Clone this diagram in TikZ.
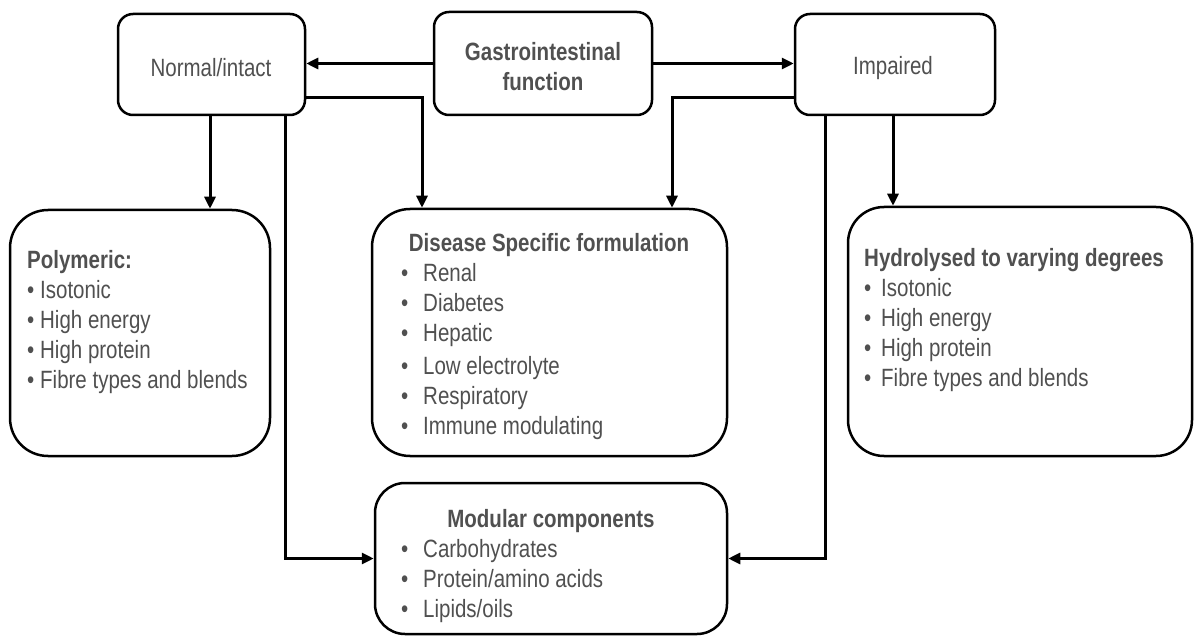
\documentclass[tikz,border=0pt]{standalone}
\usepackage{fontspec}
\setmainfont{Liberation Sans}[FakeStretch=0.82]
\usetikzlibrary{arrows.meta}
\definecolor{txt}{HTML}{505050}
\tikzset{
  box/.style={draw=black, line width=2.5pt, rounded corners=#1, fill=white, inner sep=0pt},
  box/.default=15pt,
  lbl/.style={text=txt, font=\fontsize{25}{30}\selectfont, inner sep=0pt},
  arr/.style={draw=black, line width=3pt, -{Triangle[length=12pt,width=11pt]}},
}
\newcommand{\bul}[1]{\makebox[#1][l]{•}}
\begin{document}
\begin{tikzpicture}[x=1pt,y=-1pt]
\useasboundingbox (0,0) rectangle (1194,636);
% top boxes
\node[box, minimum width=187pt, minimum height=101pt] (nrm) at (211.5,64.5) {};
\node[lbl] (nrmt) at (211,68) {Normal/intact};
\node[box, minimum width=218pt, minimum height=103pt] (gi) at (543,63.5) {};
\node[lbl, font=\fontsize{25}{30}\selectfont\bfseries, align=center] (git) at (543,67) {Gastrointestinal\\function};
\node[box, minimum width=200pt, minimum height=101pt] (imp) at (895,64.5) {};
\node[lbl] (impt) at (893,68) {Impaired};
% lower boxes
\node[box=38pt, minimum width=260pt, minimum height=246pt] (pol) at (140,333) {};
\node[lbl, anchor=north west, align=left] (polt) at (27,247) {\strut\textbf{Polymeric:}\\
\bul{13pt}Isotonic\\ \bul{13pt}High energy\\ \bul{13pt}High protein\\ \bul{13pt}Fibre types and blends};
\node[box=38pt, minimum width=355pt, minimum height=247pt] (dis) at (549.5,332.5) {};
\node[lbl, anchor=base, font=\fontsize{25}{30}\selectfont\bfseries] (dist) at (549,252) {Disease Specific formulation};
\node[lbl, anchor=north west, align=left] (disl) at (401,260) {\strut\bul{22pt}Renal\\ \bul{22pt}Diabetes\\ \bul{22pt}Hepatic\\[3pt]
\bul{22pt}Low electrolyte\\ \bul{22pt}Respiratory\\ \bul{22pt}Immune modulating};
\node[box=36pt, minimum width=344pt, minimum height=249pt] (hyd) at (1020,331.5) {};
\node[lbl, anchor=north west, align=left] (hydt) at (864,245) {\strut\textbf{Hydrolysed to varying degrees}\\
\bul{17pt}Isotonic\\ \bul{17pt}High energy\\ \bul{17pt}High protein\\ \bul{17pt}Fibre types and blends};
\node[box=30pt, minimum width=352pt, minimum height=151pt] (mod) at (551,558.5) {};
\node[lbl, anchor=base, font=\fontsize{25}{30}\selectfont\bfseries] (modt) at (551,527) {Modular components};
\node[lbl, anchor=north west, align=left] (modl) at (401,536) {\strut\bul{22pt}Carbohydrates\\ \bul{22pt}Protein/amino acids\\ \bul{22pt}Lipids/oils};
% helper coordinates
\coordinate (cx1) at (210,0);
\coordinate (cx2) at (422,0);
\coordinate (cx3) at (285,0);
\coordinate (cx4) at (672,0);
\coordinate (cx5) at (893,0);
\coordinate (cx6) at (825,0);
\coordinate (cy1) at (0,98);
% connectors
\draw[arr] (gi.west) -- (gi.west -| nrm.east);
\draw[arr] (gi.east) -- (gi.east -| imp.west);
\draw[arr] (nrm.south -| cx1) -- (pol.north -| cx1);
\draw[arr] (nrm.east |- cy1) -| (dis.north -| cx2);
\draw[arr] (nrm.south -| cx3) |- (mod.west);
\draw[arr] (imp.west |- cy1) -| (dis.north -| cx4);
\draw[arr] (imp.south -| cx5) -- (hyd.north -| cx5);
\draw[arr] (imp.south -| cx6) |- (mod.east);
\end{tikzpicture}
\end{document}
